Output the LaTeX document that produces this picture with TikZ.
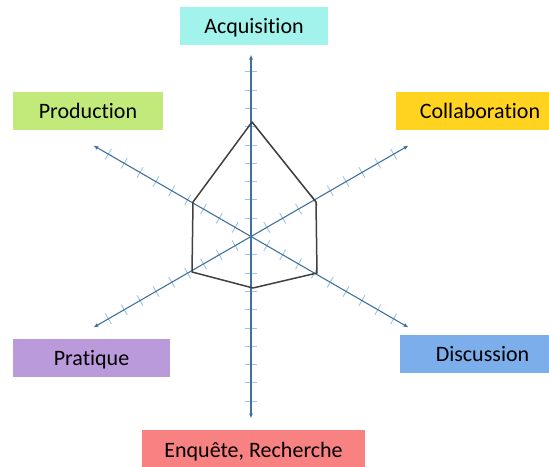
\documentclass[tikz,border=0pt]{standalone}
\usepackage{fontspec}
\setmainfont{Carlito}[Ligatures=NoCommon]
\usetikzlibrary{arrows.meta,calc}
\definecolor{axisblue}{HTML}{41719C}
\definecolor{tickblue}{HTML}{9DC3E6}
\definecolor{hexgray}{HTML}{404040}
\definecolor{acqcol}{HTML}{A2F3EC}
\definecolor{prodcol}{HTML}{C2EA7A}
\definecolor{collcol}{HTML}{FFD320}
\definecolor{pratcol}{HTML}{BB9ADC}
\definecolor{disccol}{HTML}{7BAEEA}
\definecolor{enqcol}{HTML}{F88181}
\begin{document}
\begin{tikzpicture}[x=1pt,y=-1pt,
  labelbox/.style={rectangle, inner sep=0pt, anchor=center, minimum height=38pt,
    text height=14pt, text depth=0pt,
    font=\fontsize{22}{26}\selectfont, text=black},
  axisline/.style={draw=axisblue, line width=1.1pt,
    {Latex[length=5pt,width=4pt]}-{Latex[length=5pt,width=4pt]}},
  tickmark/.style={draw=tickblue, line width=0.9pt},
  hexline/.style={draw=hexgray, line width=1.5pt, line join=round}]
\useasboundingbox (0,0) rectangle (549,466);

% label boxes
\node[labelbox, fill=acqcol, minimum width=148pt] (acq) at (254,26) {Acquisition};
\node[labelbox, fill=prodcol, minimum width=150pt] (prod) at (88,111) {Production};
\node[labelbox, fill=collcol, minimum width=168pt] (coll) at (480,111) {Collaboration};
\node[labelbox, fill=pratcol, minimum width=157pt] (prat) at (91.5,358) {Pratique};
\node[labelbox, fill=disccol, minimum width=165pt] (disc) at (482.5,354) {Discussion};
\node[labelbox, fill=enqcol, minimum width=223pt, minimum height=40pt] (enq) at (253.5,450) {Enquête, Recherche};

% centre and axis ends
\coordinate (c) at (251,236.5);
\foreach \i/\a in {1/90,2/30,3/150,4/270,5/210,6/-30}
  \coordinate (e\i) at ($(c)+(\a:182)$);

% ticks
\foreach \a in {90,30,150}
  \foreach \k in {-9,...,-1,1,2,...,9} {
    \pgfmathsetmacro\t{\k*18.3}
    \draw[tickmark] ($(c)+(\a:\t)+(\a+90:6)$) -- ($(c)+(\a:\t)+(\a-90:6)$);
  }

% axes
\draw[axisline] (e1) -- (e4);
\draw[axisline] (e2) -- (e5);
\draw[axisline] (e3) -- (e6);

% hexagon
\coordinate (h1) at (252,122);
\coordinate (h2) at (316,202);
\coordinate (h3) at (317,273);
\coordinate (h4) at (253,288);
\coordinate (h5) at (192,272);
\coordinate (h6) at (193,202);
\draw[hexline] (h1) -- (h2) -- (h3) -- (h4) -- (h5) -- (h6) -- cycle;
\end{tikzpicture}
\end{document}
